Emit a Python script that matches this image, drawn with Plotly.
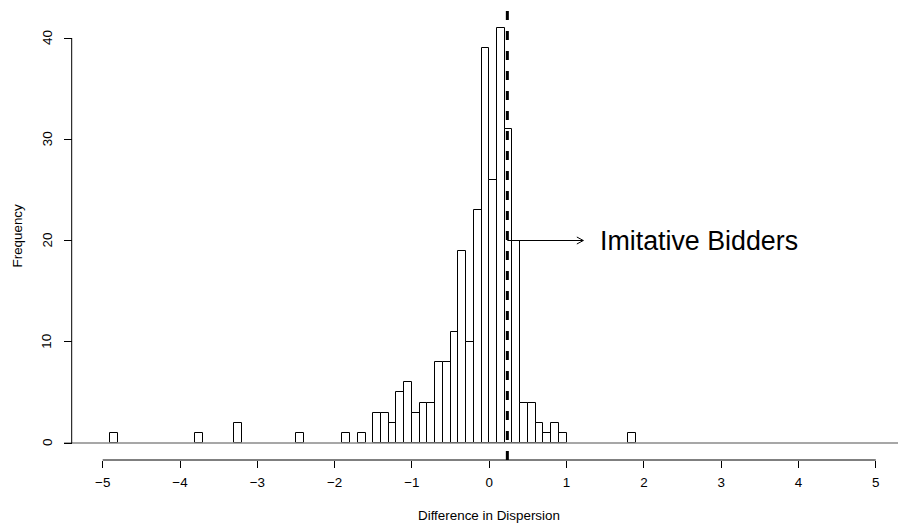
import plotly.graph_objects as go

# ---- data (bin width 0.1) ----
bin_width = 0.1
bin_left = [-4.9, -3.8, -3.3, -2.5, -1.9, -1.7, -1.5, -1.4, -1.3, -1.2, -1.1, -1.0,
            -0.9, -0.8, -0.7, -0.6, -0.5, -0.4, -0.3, -0.2, -0.1, 0.0, 0.1, 0.2,
            0.3, 0.4, 0.5, 0.6, 0.7, 0.8, 0.9, 1.8]
counts = [1, 1, 2, 1, 1, 1, 3, 3, 2, 5, 6, 3,
          4, 4, 8, 8, 11, 19, 10, 23, 39, 26, 41, 31,
          20, 4, 4, 2, 1, 2, 1, 1]
break_range = [-5.5, 5.5]          # extent of histogram breaks (zero bins)
imitative_x = 0.234                # dashed reference line
arrow_y = 20
arrow_end_x = 1.217
label_x = 1.41
label_text = "Imitative Bidders"
x_ticks = [-5, -4, -3, -2, -1, 0, 1, 2, 3, 4, 5]
y_ticks = [0, 10, 20, 30, 40]

FONT = "Liberation Sans, Arial, Helvetica, sans-serif"

centers = [l + bin_width / 2 for l in bin_left]

fig = go.Figure()

# zero-height bins drawn as baseline
fig.add_trace(go.Scatter(
    x=break_range, y=[0, 0], mode="lines",
    line=dict(color="#8a8a8a", width=1.3), hoverinfo="skip", showlegend=False,
))

fig.add_trace(go.Bar(
    x=centers, y=counts, width=bin_width,
    marker=dict(color="white", line=dict(color="black", width=1)),
    showlegend=False,
))

W, H = 898, 525
ml, mr, mt, mb = 0, 0, 11, 65
yaxis_px = 71.7
ypos = yaxis_px / W
ylabel_px = 47

fig.update_layout(
    width=W, height=H,
    margin=dict(l=ml, r=mr, t=mt, b=mb),
    paper_bgcolor="white", plot_bgcolor="white",
    font=dict(family=FONT, size=13.4, color="black"),
    bargap=0,
    xaxis=dict(
        range=[-6.3285, 5.2872], showgrid=False, zeroline=False, showline=False,
        tickmode="array", tickvals=x_ticks, ticks="outside", ticklen=7,
        tickcolor="black", tickwidth=1, tickfont=dict(size=13.4),
        ticklabelstandoff=3,
    ),
    yaxis=dict(
        range=[-1.679, 42.667], showgrid=False, zeroline=False, showline=False,
        anchor="free", position=ypos,
        tickmode="array", tickvals=y_ticks, ticks="outside", ticklen=8,
        tickcolor="black", tickwidth=1, showticklabels=False,
    ),
)

# y tick labels (rotated, R style)
for t in y_ticks:
    fig.add_annotation(x=ylabel_px / W, y=t, xref="paper", yref="y", text=str(t),
                       textangle=-90, showarrow=False, xanchor="center",
                       yanchor="middle", font=dict(size=13.4))

# axis lines spanning tick range only (R style)
fig.add_shape(type="line", xref="x", yref="paper", x0=x_ticks[0], x1=x_ticks[-1],
              y0=0, y1=0, line=dict(color="black", width=1))
fig.add_shape(type="line", xref="paper", yref="y", x0=ypos, x1=ypos,
              y0=y_ticks[0], y1=y_ticks[-1], line=dict(color="black", width=1))

# dashed vertical line
fig.add_shape(type="line", xref="x", yref="paper", x0=imitative_x, x1=imitative_x,
              y0=0, y1=1, line=dict(color="black", width=3, dash="9px,11px"))

# arrow shaft and open head
fig.add_shape(type="line", xref="x", yref="y", x0=imitative_x, x1=arrow_end_x,
              y0=arrow_y, y1=arrow_y, line=dict(color="black", width=1))
for dy in (-3.5, 3.5):
    fig.add_shape(type="line", xref="x", yref="y",
                  xsizemode="pixel", ysizemode="pixel",
                  xanchor=arrow_end_x, yanchor=arrow_y,
                  x0=-6.5, x1=0, y0=dy, y1=0,
                  line=dict(color="black", width=1))

fig.add_annotation(x=label_x, y=arrow_y, xref="x", yref="y", text=label_text,
                   showarrow=False, xanchor="left", yanchor="middle",
                   font=dict(size=26.8, family=FONT, color="black"))

# axis titles
fig.add_annotation(x=0, y=-0.1247, xref="x", yref="paper",
                   text="Difference in Dispersion", showarrow=False,
                   xanchor="center", yanchor="middle", font=dict(size=13.4))
fig.add_annotation(x=17 / W, y=0.5, xref="paper", yref="paper", text="Frequency",
                   textangle=-90, showarrow=False, xanchor="center",
                   yanchor="middle", font=dict(size=13.4))

fig.write_html("out.html")
